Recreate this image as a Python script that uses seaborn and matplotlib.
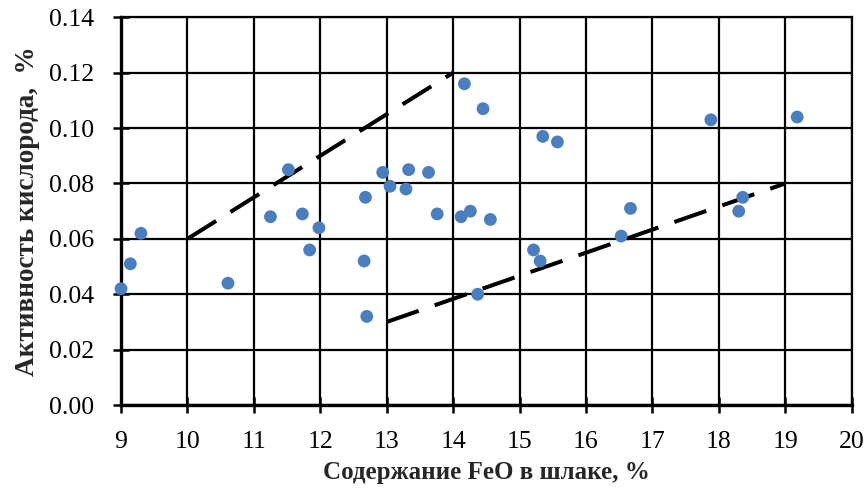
import matplotlib
matplotlib.use("Agg")
import matplotlib.pyplot as plt
import seaborn as sns
import pandas as pd

feo = [9.00, 9.14, 9.30, 10.61, 11.25, 11.52, 11.73, 11.84, 11.98, 12.68, 12.66, 12.70,
       12.94, 13.05, 14.17, 14.45, 15.35, 15.57, 13.33, 13.63, 13.29, 13.76, 14.12, 14.26,
       14.56, 15.21, 15.31, 14.37, 16.67, 16.53, 17.88, 19.18, 18.36, 18.30]
oxygen = [0.042, 0.051, 0.062, 0.044, 0.068, 0.085, 0.069, 0.056, 0.064, 0.075, 0.052, 0.032,
          0.084, 0.079, 0.116, 0.107, 0.097, 0.095, 0.085, 0.084, 0.078, 0.069, 0.068, 0.070,
          0.067, 0.056, 0.052, 0.040, 0.071, 0.061, 0.103, 0.104, 0.075, 0.070]

upper_x = [10, 14]
upper_y = [0.06, 0.12]
lower_x = [13, 19]
lower_y = [0.03, 0.08]

x_ticks = list(range(9, 21))
y_ticks = [0.00, 0.02, 0.04, 0.06, 0.08, 0.10, 0.12, 0.14]

sns.set_theme(style="white")
plt.rcParams['font.family'] = ['Liberation Serif', 'DejaVu Serif']

df = pd.DataFrame({"x": feo, "y": oxygen})

fig = plt.figure(figsize=(8.67, 4.92), dpi=100)
ax = fig.add_axes([0.1396, 0.1768, 0.8427, 0.788])

ax.set_axisbelow(True)
ax.grid(True, color="black", linewidth=1.6)

dash_pattern = [8.4, 4.2]
sns.lineplot(x=upper_x, y=upper_y, ax=ax, color="black", linewidth=2.9, zorder=3)
sns.lineplot(x=lower_x, y=lower_y, ax=ax, color="black", linewidth=2.9, zorder=3)
for ln in ax.lines:
    ln.set_dashes(dash_pattern)

sns.scatterplot(data=df, x="x", y="y", ax=ax, color="#4A7EBF", s=85,
                edgecolor="none", zorder=4, clip_on=False)

ax.set_xlim(9, 20)
ax.set_ylim(0, 0.14)
ax.set_xticks(x_ticks)
ax.set_xticklabels([str(t) for t in x_ticks])
ax.set_yticks(y_ticks)
ax.set_yticklabels([f"{t:.2f}" for t in y_ticks])

for sp in ax.spines.values():
    sp.set_visible(True)
    sp.set_color("black")
    sp.set_linewidth(1.6)
ax.spines['left'].set_linewidth(2.4)
ax.spines['bottom'].set_linewidth(2.4)

ax.tick_params(axis='both', direction='inout', length=11, width=1.8, colors='black',
               labelsize=18.5)
ax.tick_params(axis='y', pad=14)
ax.tick_params(axis='x', pad=13)
ax.tick_params(left=True, bottom=True)

ax.set_xlabel("Содержание FeO в шлаке, %", fontsize=18, fontweight='bold', labelpad=6)
ax.set_ylabel("Активность кислорода,  %", fontsize=19.5, fontweight='bold', labelpad=6)

fig.savefig("out.png", dpi=100)
